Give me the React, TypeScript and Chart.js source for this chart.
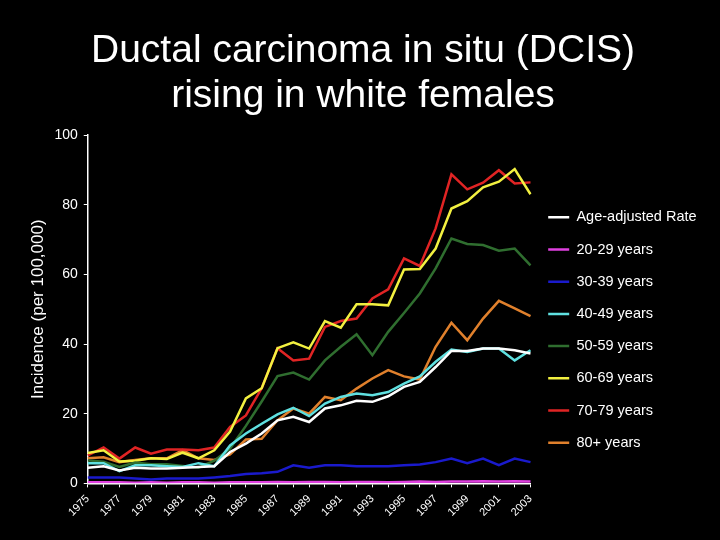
import { useEffect, useRef } from 'react';
import { Chart, registerables } from 'chart.js';

Chart.register(...registerables);

const years = [
  '1975', '1976', '1977', '1978', '1979', '1980', '1981', '1982', '1983', '1984',
  '1985', '1986', '1987', '1988', '1989', '1990', '1991', '1992', '1993', '1994',
  '1995', '1996', '1997', '1998', '1999', '2000', '2001', '2002', '2003',
];

const ageAdjusted = [4.5, 4.9, 3.7, 4.5, 4.3, 4.3, 4.5, 4.7, 4.9, 9.0, 11.4, 14.3, 18.1, 19.1, 17.6, 21.5, 22.4, 23.7, 23.4, 25.0, 27.7, 29.1, 33.4, 38.0, 38.0, 38.7, 38.7, 38.2, 37.3];
const age20_29 = [0.3, 0.3, 0.3, 0.2, 0.3, 0.2, 0.3, 0.3, 0.2, 0.3, 0.3, 0.3, 0.4, 0.3, 0.4, 0.4, 0.3, 0.4, 0.4, 0.3, 0.4, 0.5, 0.4, 0.5, 0.5, 0.6, 0.5, 0.6, 0.5];
const age30_39 = [1.7, 1.7, 1.7, 1.4, 1.1, 1.4, 1.4, 1.4, 1.7, 2.1, 2.7, 2.9, 3.3, 5.2, 4.5, 5.2, 5.2, 4.9, 4.9, 4.9, 5.2, 5.4, 6.1, 7.1, 5.8, 7.1, 5.2, 7.1, 6.1];
const age40_49 = [5.8, 5.8, 3.5, 5.2, 5.2, 4.9, 4.7, 5.8, 4.9, 10.9, 14.3, 17.1, 19.8, 21.7, 19.3, 22.9, 24.8, 25.8, 25.3, 26.2, 28.6, 30.7, 34.9, 38.4, 37.7, 38.7, 38.7, 35.3, 38.2];
const age50_59 = [6.6, 6.2, 4.7, 6.0, 5.5, 5.5, 5.0, 4.5, 6.5, 10.0, 16.5, 23.5, 30.8, 31.8, 29.8, 35.3, 39.2, 42.8, 36.8, 43.5, 48.9, 54.5, 61.7, 70.3, 68.7, 68.4, 66.8, 67.4, 62.6];
const age60_69 = [8.7, 9.5, 6.3, 6.5, 7.2, 7.0, 8.8, 7.2, 9.5, 14.9, 24.4, 27.3, 38.8, 40.5, 38.7, 46.6, 44.7, 51.4, 51.4, 51.1, 61.4, 61.5, 67.4, 78.9, 81.0, 85.0, 86.6, 90.2, 83.0];
const age70_79 = [8.0, 10.3, 7.1, 10.3, 8.5, 9.7, 9.7, 9.5, 10.3, 16.2, 19.5, 27.3, 38.8, 35.3, 35.8, 44.9, 46.6, 47.3, 53.1, 55.7, 64.6, 62.4, 73.2, 88.7, 84.4, 86.3, 89.9, 86.1, 86.4];
const age80plus = [7.2, 7.5, 6.1, 6.7, 7.2, 7.2, 9.5, 7.2, 6.7, 8.3, 12.6, 12.8, 18.1, 21.5, 20.0, 24.8, 23.9, 27.2, 30.1, 32.5, 30.7, 29.8, 39.2, 46.1, 41.1, 47.3, 52.4, 50.2, 48.0];

const seriesNames = [
  'Age-adjusted Rate', '20-29 years', '30-39 years', '40-49 years',
  '50-59 years', '60-69 years', '70-79 years', '80+ years',
];
const seriesData = [ageAdjusted, age20_29, age30_39, age40_49, age50_59, age60_69, age70_79, age80plus];
const seriesColors = ['#ffffff', '#e040e0', '#1a1acc', '#5fe0e0', '#2f6e2f', '#f2f040', '#e02424', '#e0802c'];

const titleLines = ['Ductal carcinoma in situ (DCIS)', 'rising in white females'];
const yTitle = 'Incidence (per 100,000)';

const FONT = '"Liberation Sans", Arial, Helvetica, sans-serif';

export default function App() {
  const ref = useRef<HTMLCanvasElement>(null);

  useEffect(() => {
    document.body.style.margin = '0';
    document.body.style.background = '#000';
    const canvas = ref.current;
    if (!canvas) return;
    const chart = new Chart(canvas, {
      type: 'line',
      data: {
        labels: years,
        datasets: seriesNames.map((name, i) => ({
          label: name,
          data: seriesData[i],
          borderColor: seriesColors[i],
          backgroundColor: seriesColors[i],
          borderWidth: 2.5,
          pointRadius: 0,
          tension: 0,
          fill: false,
        })),
      },
      options: {
        responsive: false,
        animation: false,
        devicePixelRatio: 1,
        layout: { padding: { left: 28, right: 22, top: 0, bottom: 16 } },
        plugins: {
          title: {
            display: true,
            text: titleLines,
            color: '#ffffff',
            font: { family: FONT, size: 39, weight: 'normal', lineHeight: '45px' },
            padding: { top: 29, bottom: 16 },
          },
          legend: {
            position: 'right',
            title: {
              display: true,
              text: ' ',
              padding: 0,
              font: { family: FONT, size: 10, lineHeight: '136px' },
            },
            labels: {
              color: '#ffffff',
              font: { family: FONT, size: 14.5 },
              usePointStyle: true,
              pointStyle: 'line',
              pointStyleWidth: 21,
              padding: 17.7,
            },
          },
          tooltip: { enabled: false },
        },
        scales: {
          x: {
            type: 'category',
            offset: false,
            grid: { display: true, drawOnChartArea: false, drawTicks: true, tickLength: 4, color: '#ffffff', lineWidth: 1 },
            border: { display: true, color: '#ffffff', width: 1.5 },
            ticks: {
              color: '#ffffff',
              font: { family: FONT, size: 11 },
              autoSkip: false,
              maxRotation: 45,
              minRotation: 45,
              padding: 5,
              callback: (_v: any, i: number) => (i % 2 === 0 ? years[i] : ''),
            },
          },
          y: {
            min: 0,
            max: 100,
            grid: { display: true, drawOnChartArea: false, drawTicks: true, tickLength: 4, color: '#ffffff', lineWidth: 1 },
            border: { display: true, color: '#ffffff', width: 1.5 },
            ticks: { stepSize: 20, color: '#ffffff', font: { family: FONT, size: 14 }, padding: 6 },
            title: {
              display: true,
              text: yTitle,
              color: '#ffffff',
              font: { family: FONT, size: 17 },
              padding: { top: 0, bottom: 0 },
            },
          },
        },
      },
    });
    return () => chart.destroy();
  }, []);

  return (
    <div style={{ position: 'fixed', left: 0, top: 0, width: 720, height: 540, background: '#000' }}>
      <canvas ref={ref} width={720} height={540} style={{ width: 720, height: 540, display: 'block' }} />
    </div>
  );
}
